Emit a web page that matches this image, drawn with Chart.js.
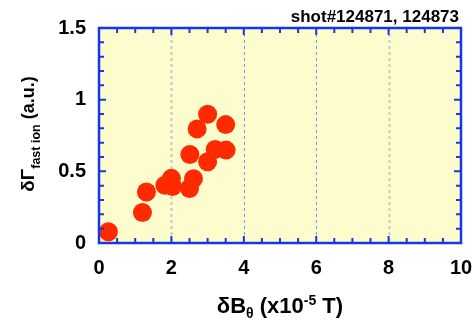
<!DOCTYPE html>
<html>
<head>
<meta charset="utf-8">
<script src="https://cdn.jsdelivr.net/npm/chart.js@4"></script>
<style>
  html, body { margin: 0; padding: 0; background: #ffffff; }
  #wrap { width: 475px; height: 322px; }
</style>
</head>
<body>
<div id="wrap"><canvas id="c" width="475" height="322"></canvas></div>
<script>
// Fluctuation of fast-ion flux versus poloidal field fluctuation
const deltaB = [0.26, 1.20, 1.31, 1.82, 2.00, 2.03, 2.50, 2.61, 2.51, 3.00, 3.21, 3.51, 2.71, 3.00, 3.50];
const deltaGamma = [0.078, 0.213, 0.356, 0.403, 0.451, 0.394, 0.380, 0.449, 0.618, 0.567, 0.653, 0.648, 0.796, 0.898, 0.826];

const xTickValues = [0, 2, 4, 6, 8, 10];
const yTickValues = [0, 0.5, 1, 1.5];
const yTickLabels = ['0', '0.5', '1', '1.5'];
const plotTitle = 'shot#124871, 124873';

const FONT = '"Liberation Sans", Arial, Helvetica, sans-serif';
const FRAME_BLUE = '#1638e0';

const points = deltaB.map((x, i) => ({ x: x, y: deltaGamma[i] }));

function drawParts(ctx, parts, cx, baseY) {
  let total = 0;
  parts.forEach(p => { ctx.font = 'bold ' + p.s + 'px ' + FONT; p.w = ctx.measureText(p.t).width; total += p.w; });
  let xx = cx - total / 2;
  ctx.textAlign = 'left';
  ctx.textBaseline = 'alphabetic';
  ctx.fillStyle = '#000';
  parts.forEach(p => {
    ctx.font = 'bold ' + p.s + 'px ' + FONT;
    ctx.fillText(p.t, xx, baseY + p.dy);
    xx += p.w;
  });
}

// Background and dashed grid under the markers
const backgroundPlugin = {
  id: 'plotBackground',
  beforeDatasetsDraw(chart) {
    const { ctx, chartArea: a, scales: { x } } = chart;
    ctx.save();
    ctx.fillStyle = '#fcfccc';
    ctx.fillRect(a.left, a.top, a.right - a.left, a.bottom - a.top);
    ctx.setLineDash([3, 3]);
    xTickValues.slice(1, -1).forEach(v => {
      const px = Math.round(x.getPixelForValue(v)) + 0.5;
      const blue = (v === 4 || v === 6);
      ctx.strokeStyle = blue ? '#7f8ff2' : '#c8c8c8';
      ctx.lineWidth = blue ? 1 : 2;
      ctx.beginPath();
      ctx.moveTo(px, a.top);
      ctx.lineTo(px, a.bottom);
      ctx.stroke();
    });
    ctx.restore();
  }
};

// Frame, inward ticks and titles on top
const framePlugin = {
  id: 'frame',
  afterDraw(chart) {
    const { ctx, chartArea: a, scales: { x, y } } = chart;
    ctx.save();
    ctx.setLineDash([]);
    ctx.strokeStyle = FRAME_BLUE;
    ctx.lineWidth = 2;
    for (let i = 1; i < 20; i++) {
      const v = i / 2;
      const len = (i % 4 === 0) ? 7 : 5;
      const px = x.getPixelForValue(v);
      ctx.beginPath();
      ctx.moveTo(px, a.bottom); ctx.lineTo(px, a.bottom - len);
      ctx.moveTo(px, a.top); ctx.lineTo(px, a.top + len);
      ctx.stroke();
    }
    for (let i = 1; i < 15; i++) {
      const v = i / 10;
      const len = (i % 5 === 0) ? 7 : 5;
      const py = y.getPixelForValue(v);
      ctx.beginPath();
      ctx.moveTo(a.left, py); ctx.lineTo(a.left + len, py);
      ctx.moveTo(a.right, py); ctx.lineTo(a.right - len, py);
      ctx.stroke();
    }
    ctx.lineWidth = 2.5;
    ctx.beginPath();
    ctx.rect(a.left, a.top, a.right - a.left, a.bottom - a.top);
    ctx.stroke();

    ctx.fillStyle = '#000';
    ctx.font = 'bold 17px ' + FONT;
    ctx.textAlign = 'right';
    ctx.textBaseline = 'alphabetic';
    ctx.fillText(plotTitle, 459, 22);

    drawParts(ctx, [
      { t: 'δB', s: 22, dy: 0 },
      { t: 'θ', s: 14, dy: 5 },
      { t: ' (x10', s: 22, dy: 0 },
      { t: '-5', s: 14, dy: -8 },
      { t: ' T)', s: 22, dy: 0 }
    ], 280, 313);

    ctx.save();
    ctx.translate(34, 134);
    ctx.rotate(-Math.PI / 2);
    drawParts(ctx, [
      { t: 'δΓ', s: 19, dy: 0 },
      { t: 'fast ion', s: 12.5, dy: 6 },
      { t: ' (a.u.)', s: 18, dy: 0 }
    ], 0, 0);
    ctx.restore();
    ctx.restore();
  }
};

new Chart(document.getElementById('c'), {
  type: 'scatter',
  data: {
    datasets: [{
      data: points,
      backgroundColor: '#ff2a00',
      borderColor: '#ff2a00',
      borderWidth: 0,
      pointRadius: 9.5,
      pointHoverRadius: 9.5
    }]
  },
  options: {
    responsive: false,
    animation: false,
    devicePixelRatio: 1,
    layout: { autoPadding: false, padding: { top: 28, right: 14, left: 0, bottom: 0 } },
    plugins: { legend: { display: false }, tooltip: { enabled: false } },
    scales: {
      x: {
        type: 'linear',
        min: 0, max: 10,
        afterBuildTicks: s => { s.ticks = xTickValues.map(v => ({ value: v })); },
        afterFit: s => { s.height = 79; s.paddingLeft = 0; s.paddingRight = 0; },
        grid: { display: false, drawTicks: false },
        border: { display: false },
        ticks: {
          padding: 13,
          color: '#000',
          maxRotation: 0,
          font: { family: FONT, size: 20, weight: 'bold' },
          callback: v => String(v)
        }
      },
      y: {
        type: 'linear',
        min: 0, max: 1.5,
        afterBuildTicks: s => { s.ticks = yTickValues.map(v => ({ value: v })); },
        afterFit: s => { s.width = 99; s.paddingTop = 0; s.paddingBottom = 0; },
        grid: { display: false, drawTicks: false },
        border: { display: false },
        ticks: {
          padding: 13,
          color: '#000',
          font: { family: FONT, size: 20, weight: 'bold' },
          callback: v => yTickLabels[yTickValues.indexOf(v)]
        }
      }
    }
  },
  plugins: [backgroundPlugin, framePlugin]
});
</script>
</body>
</html>
